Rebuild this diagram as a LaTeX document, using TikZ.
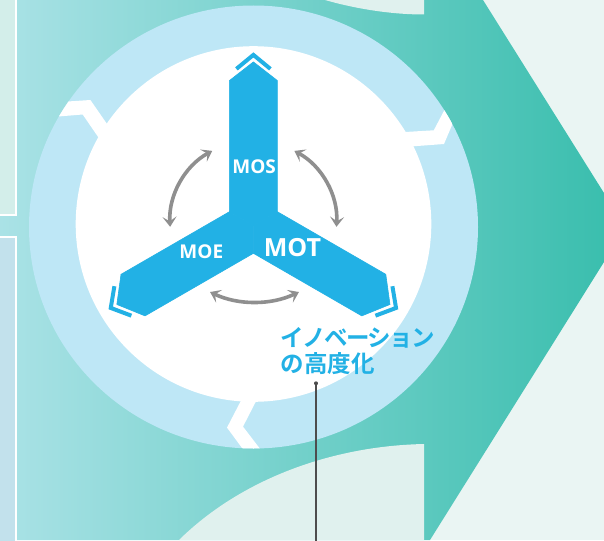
\documentclass[tikz,border=0pt]{standalone}
\usepackage{fontspec}
\newfontfamily\labelfont{Open Sans}
\newfontfamily\jpfont{Noto Sans CJK JP Bold}
\usetikzlibrary{arrows.meta}
\definecolor{paleback}{HTML}{EAF5F3}
\definecolor{flowleft}{HTML}{AAE2E6}
\definecolor{flowmid}{HTML}{7ED2DA}
\definecolor{flowright}{HTML}{37BDAC}
\definecolor{palecut}{HTML}{E0F1EE}
\definecolor{panelmint}{HTML}{D3EEEA}
\definecolor{panelblue}{HTML}{C2E1EC}
\definecolor{ringblue}{HTML}{BEE7F6}
\definecolor{armblue}{HTML}{22B1E5}
\definecolor{swapgray}{HTML}{8F8F8F}
\definecolor{leadgray}{HTML}{4D4D4D}
\tikzset{
    % Trefoil arms - solid blue
    arm/.style={fill=armblue, draw=armblue, line width=0.6},
    % Chevron caps above the arm tips
    tip chevron/.style={draw=armblue, line width=4, miter limit=10},
    % Side panels on the left edge - white border
    side panel/.style={draw=white, line width=2},
    % Curved exchange arrows - gray, both ends
    swap arrow/.style={draw=swapgray, line width=3.6,
        {Stealth[length=10pt,width=14pt,inset=4.5pt]}-{Stealth[length=10pt,width=14pt,inset=4.5pt]}},
    % White labels on the arms
    arm label/.style={text=white, inner sep=0pt, anchor=base,
        font=\labelfont\bfseries\fontsize{19}{20}\selectfont},
    % Blue callout text
    innovation label/.style={text=armblue, inner sep=0pt, align=left,
        font=\jpfont\fontsize{23.5}{26.5}\selectfont},
    % Leader line of the callout
    leader line/.style={draw=leadgray, line width=1.3}
}

\begin{document}
\begin{tikzpicture}[x=1pt,y=-1pt]
    \useasboundingbox (0,0) rectangle (604,540);
    \clip (0,0) rectangle (604,540);

    % --- Background & big arrow ---
    \fill[paleback] (0,0) rectangle (604,540);
    \shade[left color=flowleft, middle color=flowmid, right color=flowright]
        (0,0) -- (483,0) -- (625.6,227.5) -- (430,540) -- (0,540) -- cycle;
    \fill[palecut] (325,0) .. controls (360,10) and (395,14.5) .. (424,14.5) -- (424,0) -- cycle;
    \fill[palecut] (179,540) .. controls (240,480) and (330,446) .. (424,444) -- (424,540) -- cycle;

    % --- Side panels ---
    \filldraw[side panel, fill=panelmint] (-5,-5) rectangle (16,215);
    \filldraw[side panel, fill=panelblue] (-5,237) rectangle (16,545);

    % --- Ring with cracks ---
    \coordinate (ring) at (253.5,227);
    \coordinate (core) at (253.5,224);
    \fill[ringblue] (ring) ellipse [x radius=224.5, y radius=221.5];
    \begin{scope}
        \clip (ring) ellipse [x radius=224.5, y radius=221.5];
        \fill[white] (45,103) -- (90.4,100) -- (113,132.6) -- (105,147) -- (82.7,114.5) -- (45,117.6) -- cycle;
        \fill[white] (400,132.3) -- (433.8,130.3) -- (452,95.5) -- (459,108.5) -- (444,144) -- (400,147.3) -- cycle;
        \fill[white] (246.5,390) -- (261.8,390) -- (243,426.6) -- (268.6,460) -- (250.9,460) -- (227,427.6) -- cycle;
    \end{scope}
    \fill[white] (core) circle (177.8);

    % --- Trefoil (MOS up, MOE left, MOT right) ---
    \coordinate (O) at (253.4,225.6);
    \foreach \ang/\len in {0/145,120/139,240/139}{
        \begin{scope}[shift={(O)}, rotate=\ang]
            \filldraw[arm] (0,0) -- (-24,-13.9) -- (-24,-\len) -- (0,-\len-18.7) -- (24,-\len) -- (24,-13.9) -- cycle;
            \draw[tip chevron] (-17,-\len-11.7) -- (0,-\len-25.7) -- (17,-\len-11.7);
        \end{scope}
    }

    \node[arm label] (mos) at (254.2,173.3) {MOS};
    \node[arm label] (moe) at (201.3,258.3) {MOE};
    \node[arm label, font=\labelfont\bfseries\fontsize{25}{27}\selectfont] (mot) at (292.5,256.7) {MOT};

    % --- Exchange arrows ---
    \coordinate (arcL) at (251,222);
    \coordinate (arcR) at (255.6,222);
    \coordinate (arcB) at (254.5,198);
    \draw[swap arrow] ([shift={(-118.6:81)}]arcL) arc[start angle=-118.6, end angle=-183.4, radius=81];
    \draw[swap arrow] ([shift={(-61.4:81)}]arcR) arc[start angle=-61.4, end angle=3.4, radius=81];
    \draw[swap arrow] ([shift={(115.3:104)}]arcB) arc[start angle=115.3, end angle=64.7, radius=104];

    % --- Callout ---
    \node[innovation label, anchor=base west] (innov) at (280.5,372.5)
        {{\addfontfeature{LetterSpace=-7}イノベーション}\\の高度化};
    \coordinate (lead top) at (316,383.3);
    \coordinate (lead foot) at (316,545);
    \fill[leadgray] (lead top) circle (2);
    \draw[leader line] (lead top) -- (lead foot);

\end{tikzpicture}
\end{document}
